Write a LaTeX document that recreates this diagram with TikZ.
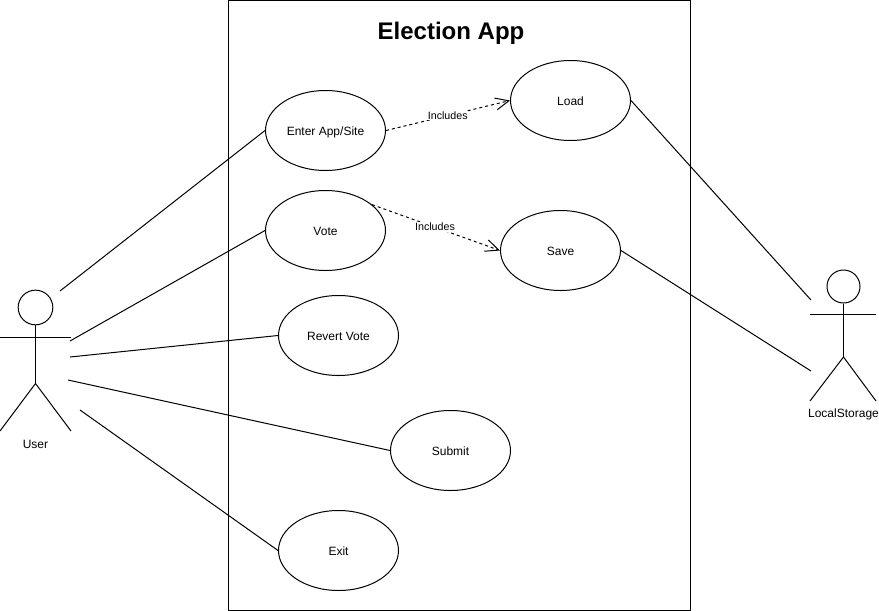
\documentclass[tikz,border=0pt]{standalone}
\usepackage{fontspec}
\setmainfont{Liberation Sans}
\usetikzlibrary{arrows.meta,shapes.geometric}
\tikzset{
  usecase/.style={draw=black,fill=white,ellipse,line width=0.75pt,minimum width=90pt,minimum height=60pt,inner sep=0pt,text height=7.8pt,text depth=0pt,font=\fontsize{9}{11}\selectfont},
  assoc/.style={draw=black,line width=0.75pt},
  incl/.style={draw=black,line width=0.75pt,dash pattern=on 2.25pt off 2.25pt,-{Straight Barb[length=10pt,width=9pt,line width=0.75pt]}},
  lbl/.style={font=\fontsize{8}{10}\selectfont,fill=white,inner sep=0.5pt},
  actorlabel/.style={font=\fontsize{9}{11}\selectfont,inner sep=0pt}
}
\begin{document}
\begin{tikzpicture}[x=0.75pt,y=-0.75pt]
\useasboundingbox (0,0) rectangle (879,611);
\node[draw=black,line width=0.75pt,minimum width=346.5pt,minimum height=457.5pt,inner sep=0pt] (sys) at (459,305.5) {};
\node[font=\bfseries\fontsize{18}{22}\selectfont,inner sep=0pt] (title) at (451,33.5) {Election App};
\node[usecase] (enter) at (325.5,130.5) {Enter App/Site};
\node[usecase] (vote) at (325.5,230.5) {Vote};
\node[usecase] (revert) at (338.5,335.5) {Revert Vote};
\node[usecase] (submit) at (450.5,450.5) {Submit};
\node[usecase] (exit) at (338.5,550.5) {Exit};
\node[usecase] (load) at (570.5,100.5) {Load};
\node[usecase] (save) at (560.5,250.5) {Save};
% User actor
\node[draw=black,circle,line width=0.75pt,minimum size=26pt,inner sep=0pt] (uhead) at (35.5,307.5) {};
\coordinate (uhip) at (35.5,383.5);
\coordinate (uarmL) at (0,337);
\coordinate (uarmR) at (71,337);
\coordinate (ulegL) at (0,431);
\coordinate (ulegR) at (71,431);
\draw[assoc] (uhead.south) -- (uhip);
\draw[assoc] (uarmL) -- (uarmR);
\draw[assoc] (ulegL) -- (uhip) -- (ulegR);
\node[actorlabel] (ulabel) at (35.5,444) {User};
% LocalStorage actor
\node[draw=black,circle,line width=0.75pt,minimum size=24.75pt,inner sep=0pt] (lhead) at (843.5,286.5) {};
\coordinate (lhip) at (843.5,357);
\coordinate (larmL) at (810,314);
\coordinate (larmR) at (876,314);
\coordinate (llegL) at (810,401);
\coordinate (llegR) at (876,401);
\draw[assoc] (lhead.south) -- (lhip);
\draw[assoc] (larmL) -- (larmR);
\draw[assoc] (llegL) -- (lhip) -- (llegR);
\node[actorlabel] (llabel) at (843.5,414.5) {LocalStorage};
% associations
\coordinate (u1) at (60,291);
\coordinate (u2) at (70,341);
\coordinate (u3) at (70,357);
\coordinate (u4) at (68,380);
\coordinate (u5) at (80,410);
\coordinate (l1) at (811,300);
\coordinate (l2) at (811,371);
\draw[assoc] (u1) -- (enter.west);
\draw[assoc] (u2) -- (vote.west);
\draw[assoc] (u3) -- (revert.west);
\draw[assoc] (u4) -- (submit.west);
\draw[assoc] (u5) -- (exit.west);
\draw[assoc] (load.east) -- (l1);
\draw[assoc] (save.east) -- (l2);
% includes
\draw[incl] (enter.east) -- node[lbl,pos=0.5,xshift=-0.2pt] {Includes} (load.west);
\draw[incl] (vote.29) -- node[lbl,pos=0.5,xshift=-0.8pt,yshift=0.4pt] {Includes} (save.west);
\end{tikzpicture}
\end{document}
